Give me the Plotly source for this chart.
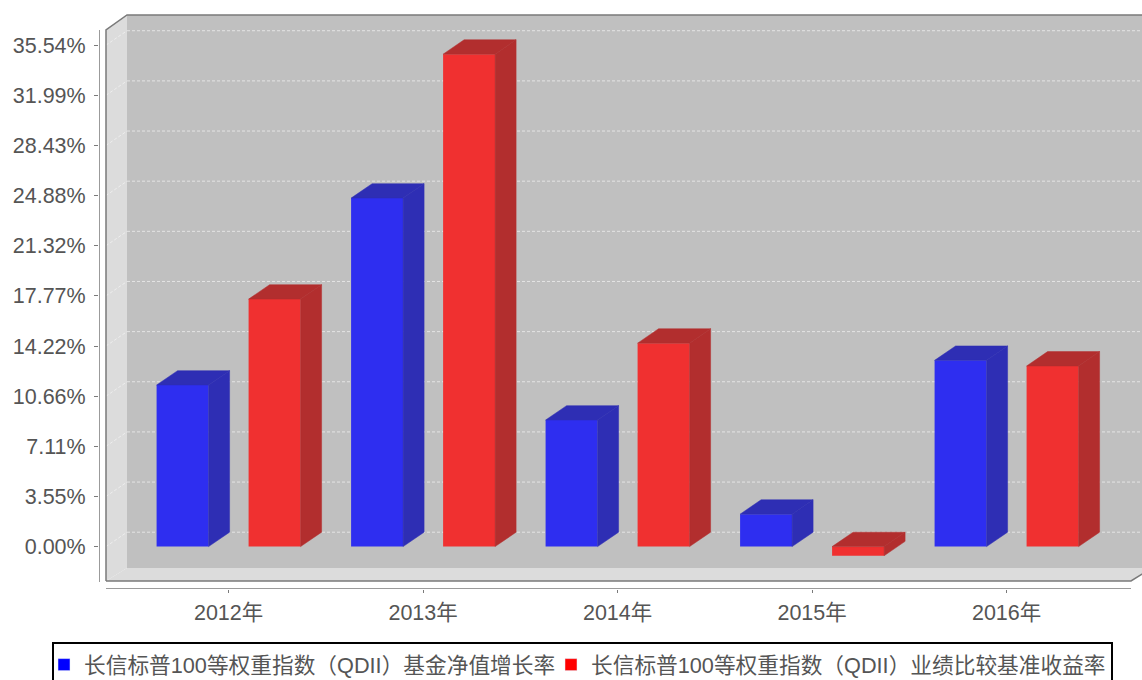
import plotly.graph_objects as go

categories = ["2012年", "2013年", "2014年", "2015年", "2016年"]
series_a_name = "长信标普100等权重指数（QDII）基金净值增长率"
series_b_name = "长信标普100等权重指数（QDII）业绩比较基准收益率"
series_a = [11.45, 24.7, 8.97, 2.3, 13.2]
series_b = [17.54, 34.9, 14.42, -0.65, 12.8]
tick_values = [0, 3.554, 7.108, 10.662, 14.216, 17.77, 21.324, 24.878, 28.432, 31.986, 35.54]
tick_labels = ["0.00%", "3.55%", "7.11%", "10.66%", "14.22%", "17.77%", "21.32%", "24.88%", "28.43%", "31.99%", "35.54%"]

W, H = 1142, 680
X0, XS = 228.6, 194.5      # pixel of category 0, pixels per category
Y0, YS = 546.6, 14.11      # pixel of value 0, pixels per percent
DX, DY = 21 / XS, 14.4 / YS   # 3-D depth in data units
BAR_W = 52 / XS
BAR_OFF = 46 / XS
xv = lambda p: (p - X0) / XS
yv = lambda p: (Y0 - p) / YS

FONT = "Liberation Sans, Noto Sans CJK SC, sans-serif"
TXT = "#555555"
LINE = "#7a7a7a"
FILL_BACK = "#c0c0c0"
FILL_WALL = "#dcdcdc"

fig = go.Figure()


def poly(points, fill, line=None, width=0, dash=None):
    path = "M" + " L".join(f"{x},{y}" for x, y in points)
    if fill:
        path += " Z"
    fig.add_shape(type="path", path=path, xref="x", yref="y", layer="below",
                  fillcolor=fill if fill else "rgba(0,0,0,0)",
                  line=dict(color=line or "rgba(0,0,0,0)", width=width, dash=dash))


# walls
L, LB, R, RB = xv(106), xv(127), xv(1131), xv(1152)
T, TB, B, BB = yv(30), yv(15), yv(581), yv(568)
poly([(LB, BB), (LB, TB), (RB, TB), (RB, BB)], FILL_BACK)
poly([(L, B), (L, T), (LB, TB), (LB, BB)], FILL_WALL)
poly([(L, B), (LB, BB), (RB, BB), (R, B)], FILL_WALL)
for v in tick_values:
    poly([(LB, v + DY), (RB, v + DY)], None, "#e4e4e4", 1, "3px,2px")
    poly([(L, v), (LB, v + DY)], None, "#eeeeee", 1, "3px,2px")
poly([(L, B), (L, T), (LB, TB), (RB, TB)], None, LINE, 1.5)
poly([(L, B), (R, B), (RB, BB)], None, LINE, 1.5)
# axis lines
poly([(xv(99), yv(30)), (xv(99), yv(582))], None, LINE, 1.5)
poly([(xv(106), yv(589)), (xv(1131), yv(589))], None, LINE, 1.5)

# legend frame (runs off the bottom edge of the picture)
fig.add_shape(type="rect", xref="paper", yref="paper", layer="below",
              x0=53 / W, x1=1112 / W, y0=-20 / H, y1=(H - 643) / H,
              line=dict(color="#000000", width=2), fillcolor="white")


def add_series(values, offset, front, dark):
    xs = [i + offset for i in range(len(values))]
    fig.add_trace(go.Bar(x=xs, y=values, width=BAR_W, marker=dict(color=front, line=dict(width=0)),
                         showlegend=False, hoverinfo="skip"))
    sx, sy, tx, ty = [], [], [], []
    for x, v in zip(xs, values):
        hi, lo = max(v, 0), min(v, 0)
        xr = x + BAR_W / 2
        xl = x - BAR_W / 2
        sx += [xr, xr + DX, xr + DX, xr, xr, None]
        sy += [hi, hi + DY, lo + DY, lo, hi, None]
        tx += [xl, xl + DX, xr + DX, xr, xl, None]
        ty += [hi, hi + DY, hi + DY, hi, hi, None]
    for px_, py_ in ((sx, sy), (tx, ty)):
        fig.add_trace(go.Scatter(x=px_, y=py_, mode="lines", fill="toself", fillcolor=dark,
                                 line=dict(color=dark, width=0.5), showlegend=False, hoverinfo="skip"))


add_series(series_a, -BAR_OFF, "#2e2ef0", "#2e2eb4")
add_series(series_b, BAR_OFF, "#f03030", "#b22e2e")

# legend entries
fig.add_trace(go.Bar(x=[None], y=[None], name=series_a_name, marker=dict(color="#0000ff"),
                     showlegend=True, legend="legend"))
fig.add_trace(go.Bar(x=[None], y=[None], name=series_b_name, marker=dict(color="#ff0000"),
                     showlegend=True, legend="legend2"))

legend_common = dict(orientation="h", xanchor="left", y=(H - 644) / H, yanchor="top",
                     borderwidth=0, bgcolor="rgba(0,0,0,0)",
                     font=dict(size=21.7, color=TXT), itemwidth=30)

fig.update_layout(
    width=W, height=H, margin=dict(l=0, r=0, t=0, b=0, autoexpand=False), autosize=False,
    paper_bgcolor="white", plot_bgcolor="white", barmode="overlay",
    font=dict(family=FONT, color=TXT, size=21.5),
    xaxis=dict(domain=[99 / W, 1], range=[xv(99), xv(1142)], tickmode="array",
               tickvals=list(range(len(categories))), ticktext=categories,
               showgrid=False, zeroline=False, showline=False, ticks="outside", ticklen=3,
               tickcolor=LINE, ticklabelstandoff=1, tickfont=dict(size=21.5, color=TXT)),
    yaxis=dict(domain=[(H - 589) / H, 1], range=[yv(589), yv(0)], tickmode="array",
               tickvals=tick_values, ticktext=tick_labels,
               showgrid=False, zeroline=False, showline=False, ticks="outside", ticklen=4,
               tickcolor=LINE, ticklabelstandoff=4, tickfont=dict(size=21.5, color=TXT)),
    legend=dict(x=44 / W, **legend_common),
    legend2=dict(x=551 / W, **legend_common),
)

fig.write_html("out.html", post_script="document.body.style.margin='0';document.body.style.overflow='hidden';",
               config={"displayModeBar": False})
